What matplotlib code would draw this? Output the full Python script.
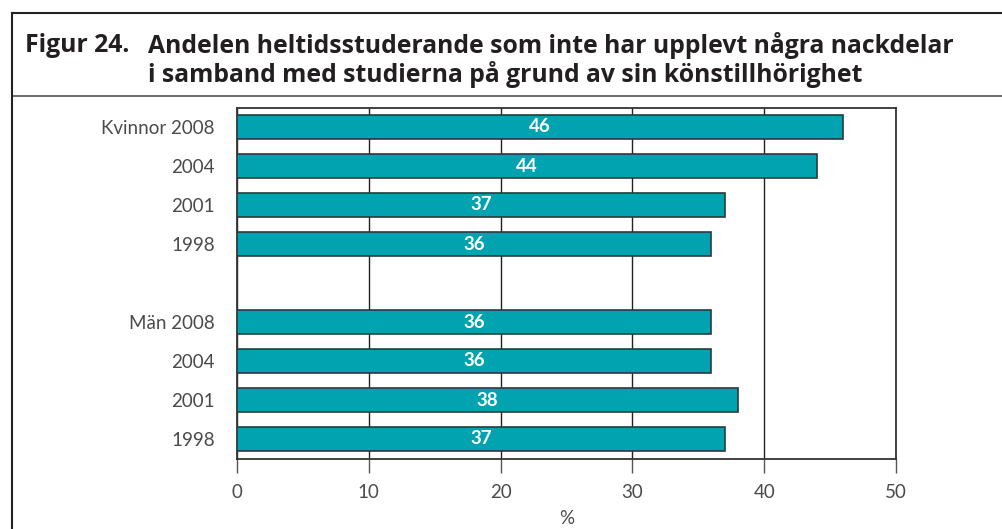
import matplotlib.pyplot as plt
from matplotlib.lines import Line2D

categories = ['Kvinnor 2008', '2004', '2001', '1998', '',
              'Män 2008', '2004', '2001', '1998']
values = [46, 44, 37, 36, None, 36, 36, 38, 37]
xticks = [0, 10, 20, 30, 40, 50]

plt.rcParams['font.family'] = ['Lato', 'DejaVu Sans']

fig = plt.figure(figsize=(10.02, 5.29), dpi=100)
W, H = 1002, 529

ax = fig.add_axes([237 / W, 1 - 458.5 / H, (896 - 237) / W, (458.5 - 107.5) / H])

ypos = list(range(len(categories)))
for y, v in zip(ypos, values):
    if v is None:
        continue
    ax.barh(y, v, height=0.64, color='#00a3af', edgecolor='#2b3a3e', linewidth=1.2, zorder=3)
    ax.text(v / 2, y, str(v), ha='center', va='center', color='white',
            fontsize=13.5, fontweight='bold', zorder=4)

ax.set_xlim(0, 50)
ax.set_ylim(len(categories) - 0.5, -0.5)
ax.set_xticks(xticks)
ax.set_xticklabels([str(t) for t in xticks], fontsize=13.5, color='#4a4a4a')
ax.set_yticks(ypos)
ax.set_yticklabels(categories, fontsize=13.5, color='#4a4a4a')
ax.tick_params(axis='y', length=0, pad=16)
ax.tick_params(axis='x', length=10, width=1, color='#555555', pad=8, direction='out')
ax.grid(axis='x', color='#222222', linewidth=1, zorder=0)
for s in ax.spines.values():
    s.set_color('#333333')
    s.set_linewidth(1.3)
ax.set_xlabel('%', fontsize=13.5, color='#4a4a4a', labelpad=7)

# title box
fig.add_artist(Line2D([12 / W, 1], [1 - 13 / H, 1 - 13 / H], color='#222222', lw=1.5))
fig.add_artist(Line2D([12 / W, 1], [1 - 96 / H, 1 - 96 / H], color='#555555', lw=1.2))
fig.add_artist(Line2D([12 / W, 12 / W], [0, 1 - 13 / H], color='#222222', lw=1.5))

tfont = ['Open Sans', 'DejaVu Sans']
fig.text(25 / W, 1 - 46 / H, 'Figur 24.', fontsize=17.8, fontweight='bold',
         color='#231f20', va='center', ha='left', family=tfont)
fig.text(148 / W, 1 - 46 / H, 'Andelen heltidsstuderande som inte har upplevt några nackdelar',
         fontsize=17.8, fontweight='bold', color='#231f20', va='center', ha='left', family=tfont)
fig.text(148 / W, 1 - 74 / H, 'i samband med studierna på grund av sin könstillhörighet',
         fontsize=17.8, fontweight='bold', color='#231f20', va='center', ha='left', family=tfont)

fig.savefig('out.png', dpi=100)
